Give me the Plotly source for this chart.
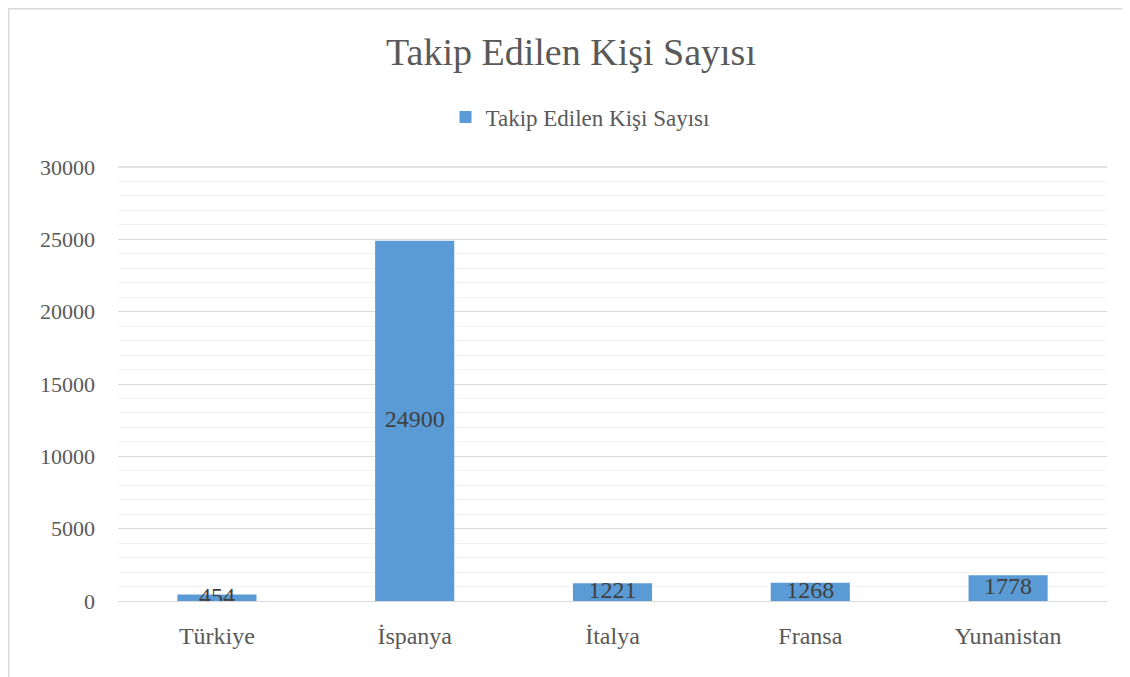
import plotly.graph_objects as go

categories = ["Türkiye", "İspanya", "İtalya", "Fransa", "Yunanistan"]
values = [454, 24900, 1221, 1268, 1778]
series_name = "Takip Edilen Kişi Sayısı"
title_text = "Takip Edilen Kişi Sayısı"
y_ticks = [0, 5000, 10000, 15000, 20000, 25000, 30000]
y_tick_labels = ["0", "5000", "10000", "15000", "20000", "25000", "30000"]

FONT = "Liberation Serif, Times New Roman, serif"
W, H = 1130, 677
OFF = 8  # page body margin
# desired on-screen plot area: left 118, right 1107, top 167, bottom 601
L = 118 - OFF
T = 167 - OFF
R = W - (1107 - OFF)
B = H - (601 - OFF)

fig = go.Figure()
fig.add_trace(go.Bar(
    x=categories, y=values, name=series_name,
    marker=dict(color="#5B9BD5", line=dict(width=0)),
    showlegend=True,
))
# data labels centred on each bar
fig.add_trace(go.Scatter(
    x=categories, y=[v / 2 for v in values], mode="text",
    text=[str(v) for v in values], textposition="middle center",
    textfont=dict(family=FONT, size=24, color="#404040"),
    showlegend=False, hoverinfo="skip",
))

def px_to_paper_x(px):
    return (px - L) / (W - L - R)

def px_to_paper_y(py):
    return 1 - (py - T) / (H - T - B)

# outer chart border (left and top edges visible)
fig.add_shape(type="rect", xref="paper", yref="paper",
              x0=px_to_paper_x(0.5), x1=px_to_paper_x(W + 20),
              y0=px_to_paper_y(H + 20), y1=px_to_paper_y(0.5),
              line=dict(color="#D9D9D9", width=2), fillcolor="rgba(0,0,0,0)", layer="below")
# top major gridline (Plotly skips gridlines on the plot edge)
fig.add_shape(type="line", xref="paper", yref="paper", x0=0, x1=1, y0=1, y1=1,
              line=dict(color="#D9D9D9", width=1.5), layer="below")

fig.update_layout(
    width=W, height=H,
    margin=dict(l=L, r=R, t=T, b=B, autoexpand=False),
    paper_bgcolor="white", plot_bgcolor="white",
    title=dict(text=title_text, x=(571 - OFF) / W, xref="container",
               xanchor="center", y=1 - (52 - OFF) / H, yanchor="middle",
               font=dict(family=FONT, size=38, color="#595959")),
    legend=dict(orientation="h", x=(580 - OFF) / W, xref="container", xanchor="center",
                y=1 - (117 - OFF) / H, yanchor="middle",
                yref="container", font=dict(family=FONT, size=23, color="#595959"),
                itemwidth=30),
    bargap=0.6,
    xaxis=dict(tickfont=dict(family=FONT, size=24, color="#595959"), showgrid=False,
               showline=False, ticks="", ticklabelstandoff=18),
    yaxis=dict(range=[0, 30000], tickvals=y_ticks, ticktext=y_tick_labels,
               tickfont=dict(family=FONT, size=22, color="#595959"),
               gridcolor="#D9D9D9", gridwidth=1, zeroline=True, zerolinecolor="#D9D9D9", zerolinewidth=1,
               minor=dict(dtick=1000, showgrid=True, gridcolor="#F2F2F2", gridwidth=1),
               showline=False, ticks="", ticklabelstandoff=22),
)

fig.write_html("out.html")
